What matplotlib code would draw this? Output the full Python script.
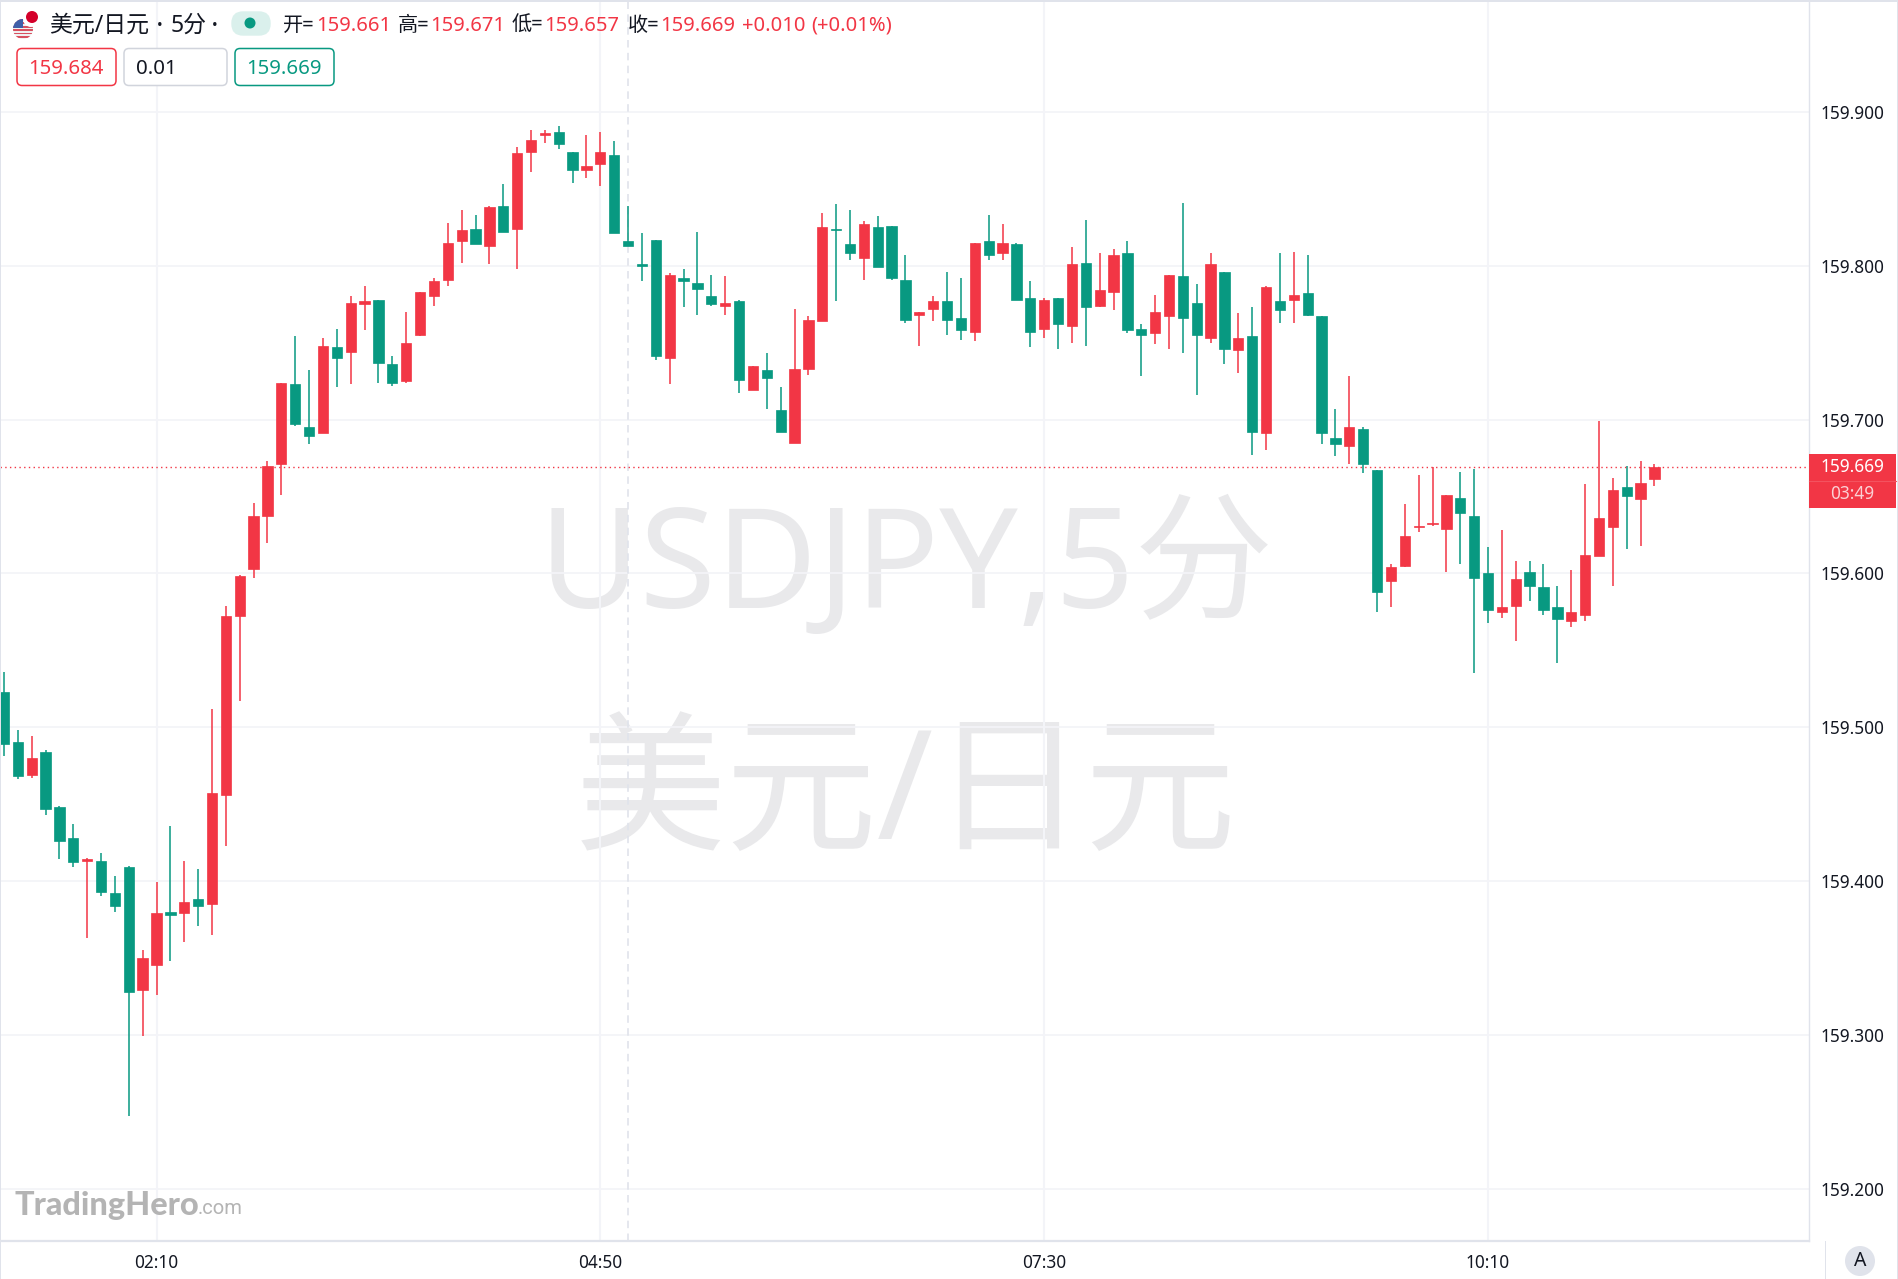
import numpy as np
import matplotlib
matplotlib.use("Agg")
import matplotlib.pyplot as plt
from matplotlib.patches import Circle, FancyBboxPatch, Rectangle

FONT = ['Noto Sans', 'Noto Sans CJK SC', 'DejaVu Sans']
plt.rcParams['font.family'] = FONT

bar_index = list(range(-11, 109))
# prices are stored as the part above 159
opens = [.523,.490,.469,.484,.448,.428,.413,.413,.392,.409,.329,
 .345,.380,.379,.388,.385,.456,.572,.603,.637,.671,
 .723,.695,.691,.747,.744,.775,.778,.736,.725,.755,
 .780,.791,.816,.824,.813,.839,.824,.874,.885,.887,
 .874,.862,.866,.872,.816,.801,.817,.740,.792,.789,
 .780,.774,.777,.719,.732,.706,.685,.733,.764,.824,
 .814,.805,.825,.826,.791,.768,.772,.777,.766,.757,
 .816,.808,.814,.779,.759,.779,.761,.802,.774,.783,
 .808,.759,.756,.767,.793,.776,.753,.796,.745,.754,
 .691,.777,.778,.782,.767,.688,.683,.694,.667,.595,
 .605,.630,.632,.629,.649,.637,.600,.575,.579,.601,
 .591,.578,.569,.573,.611,.630,.656,.648,.661]
closes = [.489,.468,.480,.447,.426,.412,.414,.393,.384,.328,.350,
 .379,.378,.386,.384,.457,.572,.598,.637,.670,.724,
 .697,.689,.748,.740,.776,.777,.737,.724,.750,.783,
 .790,.815,.823,.814,.838,.822,.873,.882,.886,.879,
 .862,.865,.874,.821,.813,.800,.741,.794,.790,.785,
 .775,.776,.726,.735,.727,.692,.733,.765,.825,.823,
 .808,.827,.799,.792,.765,.770,.777,.765,.758,.815,
 .807,.815,.778,.757,.778,.762,.801,.773,.784,.807,
 .758,.755,.770,.794,.766,.755,.801,.746,.753,.692,
 .786,.771,.781,.768,.691,.684,.695,.671,.588,.604,
 .624,.631,.633,.651,.639,.597,.576,.578,.596,.592,
 .576,.570,.575,.612,.636,.654,.650,.659,.669]
highs = [.536,.498,.494,.485,.449,.437,.415,.418,.403,.410,.355,
 .399,.436,.413,.408,.512,.579,.599,.646,.673,.724,
 .754,.732,.753,.759,.780,.787,.778,.741,.770,.783,
 .792,.828,.836,.833,.839,.853,.877,.888,.888,.891,
 .874,.885,.887,.881,.839,.821,.817,.795,.798,.822,
 .794,.793,.778,.735,.743,.721,.772,.767,.834,.840,
 .836,.829,.832,.826,.807,.770,.780,.796,.792,.815,
 .833,.827,.815,.790,.779,.779,.812,.830,.808,.811,
 .816,.762,.781,.794,.841,.788,.808,.796,.769,.773,
 .787,.808,.809,.807,.767,.707,.728,.695,.667,.606,
 .645,.664,.669,.651,.666,.668,.617,.628,.608,.608,
 .606,.592,.602,.658,.699,.662,.670,.673,.671]
lows = [.481,.466,.467,.443,.414,.409,.363,.390,.380,.247,.299,
 .326,.348,.360,.371,.365,.423,.517,.597,.620,.651,
 .696,.684,.691,.721,.723,.758,.724,.722,.724,.754,
 .774,.787,.802,.814,.801,.822,.798,.861,.880,.876,
 .854,.857,.852,.821,.813,.790,.739,.723,.773,.768,
 .774,.768,.717,.719,.707,.692,.685,.729,.764,.777,
 .804,.791,.799,.791,.763,.748,.764,.755,.752,.751,
 .804,.804,.778,.747,.753,.746,.750,.748,.773,.771,
 .756,.728,.749,.746,.743,.716,.750,.736,.730,.677,
 .680,.763,.763,.767,.684,.676,.671,.665,.575,.578,
 .604,.627,.631,.601,.606,.535,.568,.571,.556,.582,
 .573,.542,.565,.569,.611,.592,.616,.618,.657]
price_base = 159.0

y_ticks = [159.2, 159.3, 159.4, 159.5, 159.6, 159.7, 159.8, 159.9]
x_ticks = [0, 32, 64, 96]
x_labels = ['02:10', '04:50', '07:30', '10:10']
last_price = 159.669
crosshair_bar = 34

RED = '#f23645'
GREEN = '#089981'
GRID = '#f3f4f8'
BORDER = '#e0e3eb'
TEXT = '#131722'

W, H = 1899, 1279
PLOT_R, PLOT_B = 1809, 1241
fig = plt.figure(figsize=(W / 100, H / 100), dpi=100, facecolor='white')


def pixel_axes(z):
    a = fig.add_axes([0, 0, 1, 1], zorder=z)
    a.set_xlim(0, W)
    a.set_ylim(H, 0)
    a.axis('off')
    a.patch.set_alpha(0)
    return a


bg = pixel_axes(0)
wm = '#e9e9eb'
bg.text(906, 571, 'USDJPY,5分', fontsize=100, color=wm, ha='center', va='center')
bg.text(906, 799, '美元/日元', fontsize=109, color=wm, ha='center', va='center')

ax = fig.add_axes([0, 1 - PLOT_B / H, PLOT_R / W, PLOT_B / H], zorder=1)
ax.patch.set_alpha(0)
PX_X0, PX_PER_BAR = 156.5, 13.87
PX_Y0, PX_PER_UNIT = 573.3, 1538.0
ax.set_xlim(-PX_X0 / PX_PER_BAR, (PLOT_R - PX_X0) / PX_PER_BAR)
ax.set_ylim(159.6 - (PLOT_B - PX_Y0) / PX_PER_UNIT, 159.6 + PX_Y0 / PX_PER_UNIT)

ax.set_yticks(y_ticks)
ax.set_yticklabels([f'{v:.3f}' for v in y_ticks])
ax.set_xticks(x_ticks)
ax.set_xticklabels(x_labels)
ax.yaxis.tick_right()
ax.tick_params(axis='y', length=0, pad=8.5, labelsize=12.4, labelcolor=TEXT)
ax.tick_params(axis='x', length=0, pad=9, labelsize=12.4, labelcolor=TEXT)
ax.grid(True, axis='y', color=GRID, lw=1.3, zorder=0)
ax.grid(True, axis='x', color=GRID, lw=1.5, zorder=0)
ax.set_axisbelow(True)
for s in ('top', 'left'):
    ax.spines[s].set_visible(False)
for s in ('right', 'bottom'):
    ax.spines[s].set_color(BORDER)
ax.spines['right'].set_linewidth(1.0)
ax.spines['bottom'].set_linewidth(1.6)

ax.axvline(crosshair_bar, color=BORDER, lw=1.2, dashes=(4.5, 3.2), zorder=1)

idx = np.array(bar_index)
o = price_base + np.array(opens)
c = price_base + np.array(closes)
h = price_base + np.array(highs)
l = price_base + np.array(lows)
colors = [RED if ci > oi else GREEN for oi, ci in zip(o, c)]
ax.vlines(idx, l, h, colors=colors, lw=1.1, zorder=3)
ax.bar(idx, np.abs(c - o), bottom=np.minimum(o, c), width=0.74, color=colors,
       edgecolor=colors, linewidth=0.5, zorder=4)

ax.axhline(last_price, color=RED, lw=1.0, dashes=(1, 2.4), zorder=5)

ov = pixel_axes(2)
# outer frame
ov.add_patch(Rectangle((0, 0), W, 2, color=BORDER, lw=0))
ov.add_patch(Rectangle((0, 0), 1.5, H, color=BORDER, lw=0))
ov.add_patch(Rectangle((W - 2, 0), 2, H, color=BORDER, lw=0))
ov.add_patch(Rectangle((1825, PLOT_B), 1, H - PLOT_B, color=BORDER, lw=0))

# last price tag
ov.add_patch(Rectangle((1809.5, 454), 86.5, 54, color=RED, lw=0))
ov.plot([1809.5, 1896], [480.5, 480.5], color='#f4525f', lw=0.8)
ov.text(1852, 467.5, '159.669', color='white', fontsize=12.4, ha='center', va='center')
ov.text(1852, 494, '03:49', color='#fbd0d4', fontsize=12.4, ha='center', va='center')

# auto-scale button
ov.add_patch(Circle((1860, 1261), 15, color=BORDER, lw=0))
ov.text(1860, 1261, 'A', color=TEXT, fontsize=14, ha='center', va='center')

# header: flag
us = Circle((23, 29), 10, color='#f0f0f0', lw=0, zorder=3)
ov.add_patch(us)
for k, yy in enumerate(np.arange(19, 40, 3.4)):
    st = Rectangle((12, yy), 23, 1.8, color='#d8505f', lw=0, zorder=3.1)
    ov.add_patch(st)
    st.set_clip_path(us)
cant = Rectangle((12, 17), 11, 11, color='#3f5fa8', lw=0, zorder=3.2)
ov.add_patch(cant)
cant.set_clip_path(us)
ov.add_patch(Circle((31, 19), 8, color='white', lw=0, zorder=3.3))
ov.add_patch(Circle((32, 17), 6, color='#d4002a', lw=0, zorder=3.4))

ov.text(49, 26, '美元/日元', fontsize=16.5, color=TEXT, va='center')
ov.text(157, 26, '•', fontsize=11, color=TEXT, va='center')
ov.text(171, 26, '5分', fontsize=16.5, color=TEXT, va='center')
ov.text(212, 26, '•', fontsize=11, color=TEXT, va='center')
ov.add_patch(FancyBboxPatch((232, 12), 38, 23, boxstyle='round,pad=0,rounding_size=11',
                            fc='#daf0ec', ec='#daf0ec', lw=1))
ov.add_patch(Circle((250, 23), 5.5, color=GREEN, lw=0))

header = [(283, '开=', TEXT), (316, '159.661', RED), (398, '高=', TEXT), (430, '159.671', RED),
          (512, '低=', TEXT), (544, '159.657', RED), (628, '收=', TEXT), (660, '159.669', RED),
          (742, '+0.010', RED), (811, '(+0.01%)', RED)]
for x, s, col in header:
    ov.text(x, 26, s, fontsize=14.5, color=col, va='center')

# order boxes
for x0, x1, ec, s, col in [(17, 116, RED, '159.684', RED),
                           (124, 227, '#d1d4dc', '0.01', TEXT),
                           (235, 334, GREEN, '159.669', GREEN)]:
    ov.add_patch(FancyBboxPatch((x0, 48.5), x1 - x0, 37, boxstyle='round,pad=0,rounding_size=5',
                                fc='white', ec=ec, lw=1.1))
    if s == '0.01':
        ov.text(136, 69, s, fontsize=14.7, color=col, va='center')
    else:
        ov.text((x0 + x1) / 2 - 0.5, 68.5, s, fontsize=14.7, color=col, ha='center', va='center')

# logo
ov.text(15, 1206, 'TradingHero', fontsize=23.4, fontweight='black', color='#b4b4b4',
        family=['Lato', 'DejaVu Sans'], va='center')
ov.text(198, 1208, '.com', fontsize=14.5, color='#b4b4b4', family=['Roboto', 'DejaVu Sans'], va='center')

fig.savefig('out.png', dpi=100, facecolor='white')
